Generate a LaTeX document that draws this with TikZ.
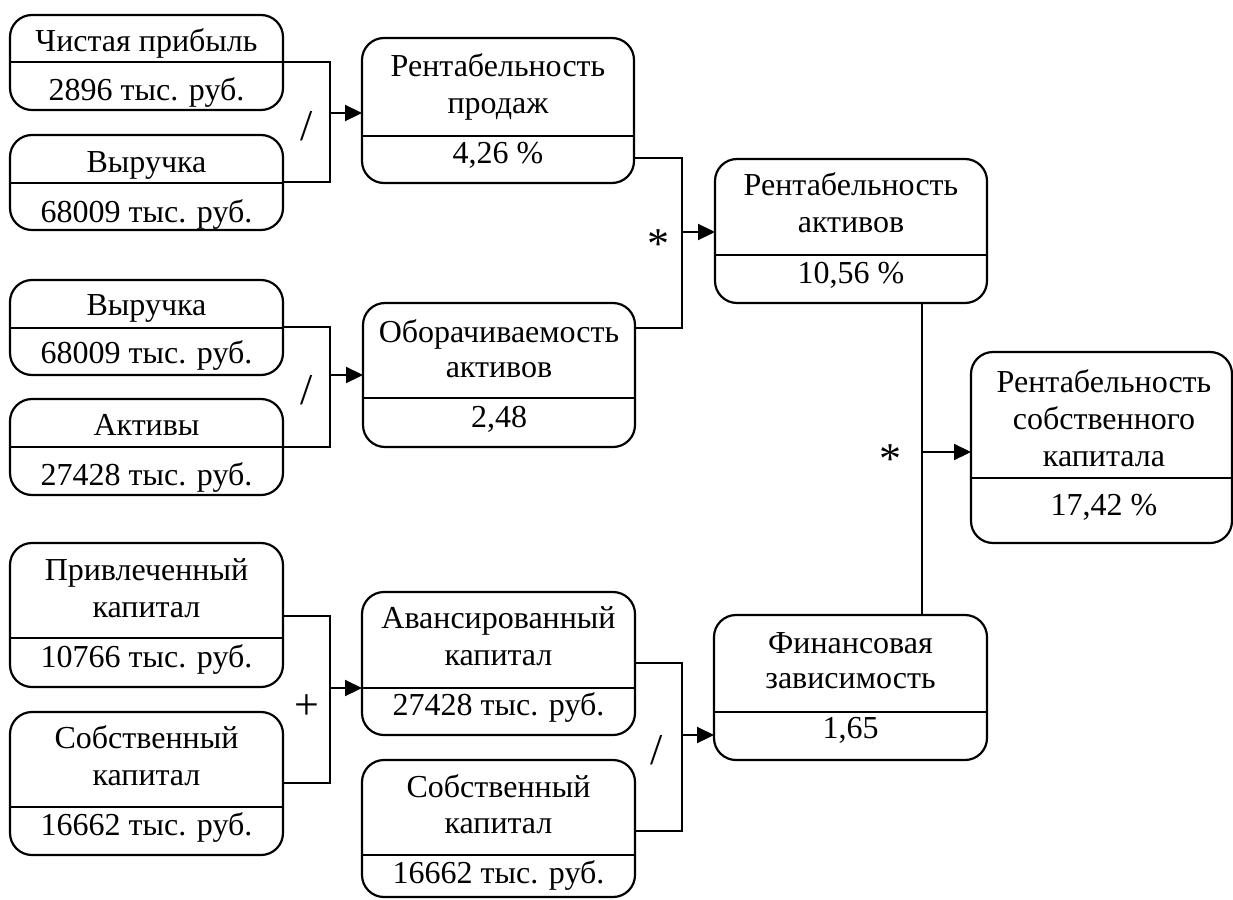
\documentclass[tikz,border=0pt]{standalone}
\usepackage{fontspec}
\setmainfont{Liberation Serif}
\usetikzlibrary{arrows.meta}
\tikzset{
 ln/.style={line width=2.2pt, line join=miter},
 arr/.style={ln, -{Triangle[length=17pt,width=16pt]}},
 bx/.style={draw, line width=2.2pt, rounded corners=22pt, inner sep=0pt, outer sep=0pt},
 txt/.style={font=\fontsize{32}{36}\selectfont, inner sep=0pt, anchor=base},
 op/.style={font=\fontsize{44}{44}\selectfont, inner sep=0pt},
}
\newcommand\rbox[6]{%
 \node[bx, minimum width={#4-#2}, minimum height={#5-#3}] (#1) at ({(#2+#4)/2},{(#3+#5)/2}) {};
 \draw[ln] (#1.west |- 0,#6) -- (#1.east |- 0,#6);
}
\begin{document}
\begin{tikzpicture}[x=1pt,y=-1pt]
\useasboundingbox (0,0) rectangle (1233,899);
% boxes
\rbox{A}{10}{15}{283}{110}{62}
\rbox{B}{10}{135}{283}{230}{183}
\rbox{F}{10}{280}{283}{375}{328}
\rbox{G}{10}{399}{283}{495}{447}
\rbox{I}{10}{543}{283}{687}{638}
\rbox{J}{10}{712}{283}{855}{807}
\rbox{C}{362}{38}{634}{183}{136}
\rbox{E}{363}{303}{635}{447}{398}
\rbox{K}{362}{592}{635}{735}{688}
\rbox{L}{362}{760}{635}{897}{855}
\rbox{D}{715}{159}{987}{303}{255}
\rbox{M}{714}{615}{987}{760}{712}
\rbox{H}{971}{352}{1232}{543}{478}
% texts
\node[txt] (A1) at (146.5,52) {Чистая прибыль};
\node[txt] (A2) at (146.5,100) {2896 тыс. руб.};
\node[txt] (B1) at (146.5,172) {Выручка};
\node[txt] (B2) at (146.5,222) {68009 тыс. руб.};
\node[txt] (F1) at (146.5,315) {Выручка};
\node[txt] (F2) at (146.5,363) {68009 тыс. руб.};
\node[txt] (G1) at (146.5,435) {Активы};
\node[txt] (G2) at (146.5,485) {27428 тыс. руб.};
\node[txt] (I1) at (146.5,580) {Привлеченный};
\node[txt] (I2) at (146.5,617) {капитал};
\node[txt] (I3) at (146.5,667) {10766 тыс. руб.};
\node[txt] (J1) at (146.5,748) {Собственный};
\node[txt] (J2) at (146.5,785) {капитал};
\node[txt] (J3) at (146.5,835) {16662 тыс. руб.};
\node[txt] (C1) at (498,77) {Рентабельность};
\node[txt] (C2) at (498,113) {продаж};
\node[txt] (C3) at (498,163) {4,26 \%};
\node[txt] (E1) at (499,342) {Оборачиваемость};
\node[txt] (E2) at (499,377) {активов};
\node[txt] (E3) at (499,427) {2,48};
\node[txt] (K1) at (498.5,628) {Авансированный};
\node[txt] (K2) at (498.5,665) {капитал};
\node[txt] (K3) at (498.5,715) {27428 тыс. руб.};
\node[txt] (L1) at (498.5,797) {Собственный};
\node[txt] (L2) at (498.5,833) {капитал};
\node[txt] (L3) at (498.5,883) {16662 тыс. руб.};
\node[txt] (D1) at (851,195) {Рентабельность};
\node[txt] (D2) at (851,232) {активов};
\node[txt] (D3) at (851,283) {10,56 \%};
\node[txt] (M1) at (850.5,653) {Финансовая};
\node[txt] (M2) at (850.5,688) {зависимость};
\node[txt] (M3) at (850.5,738) {1,65};
\node[txt] (H1) at (1104,392) {Рентабельность};
\node[txt] (H2) at (1104,429) {собственного};
\node[txt] (H3) at (1104,466) {капитала};
\node[txt] (H4) at (1104,515) {17,42 \%};
% junctions
\coordinate (jAB) at (330,113);
\coordinate (jFG) at (330,375);
\coordinate (jIJ) at (330,688);
\coordinate (jCE) at (682,232);
\coordinate (jKL) at (682,735);
\coordinate (jDM) at (922,452);
% connectors
\draw[ln] (A.east |- 0,62) -| (jAB) |- (B.east |- 0,182);
\draw[arr] (jAB) -- (C.west |- jAB);
\draw[ln] (F.east |- 0,327) -| (jFG) |- (G.east |- 0,447);
\draw[arr] (jFG) -- (E.west |- jFG);
\draw[ln] (I.east |- 0,616) -| (jIJ) |- (J.east |- 0,783);
\draw[arr] (jIJ) -- (K.west |- jIJ);
\draw[ln] (C.east |- 0,158) -| (jCE) |- (E.east |- 0,328);
\draw[arr] (jCE) -- (D.west |- jCE);
\draw[ln] (K.east |- 0,663) -| (jKL) |- (L.east |- 0,831);
\draw[arr] (jKL) -- (M.west |- jKL);
\draw[ln] (D.south -| jDM) -- (M.north -| jDM);
\draw[arr] (jDM) -- (H.west |- jDM);
% operators
\node[op] (o1) at (307,126) {/};
\node[op] (o2) at (307,390) {/};
\node[op] (o3) at (657,750) {/};
\node[op] (o4) at (658,244) {*};
\node[op] (o5) at (890,459) {*};
\node[op] (o6) at (306.5,707) {+};
\end{tikzpicture}
\end{document}
